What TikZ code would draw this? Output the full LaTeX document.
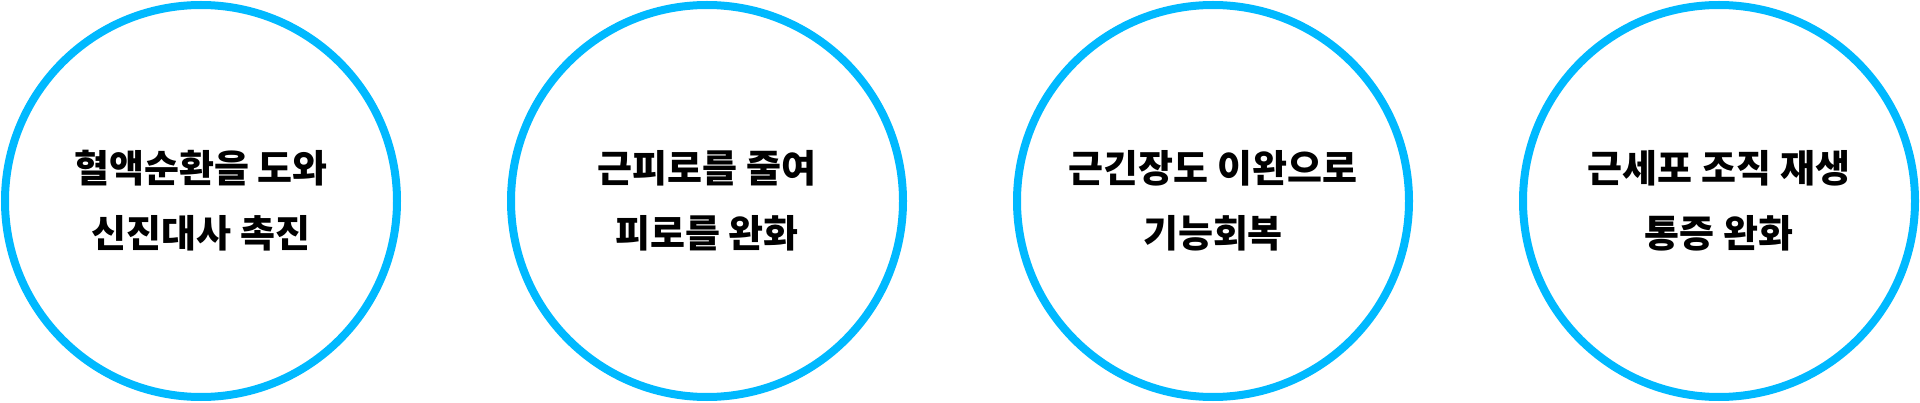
\documentclass[tikz,border=0pt]{standalone}
\usepackage{fontspec}
\setmainfont{Noto Sans CJK KR}
\definecolor{ringblue}{RGB}{0,185,255}
\tikzset{
  effect/.style={circle, draw=ringblue, line width=8pt, minimum size=392pt,
    align=center, font=\bfseries\fontsize{38}{65}\selectfont, text=black}
}
\begin{document}
\begin{tikzpicture}[x=1pt, y=1pt]
    \useasboundingbox (0,0) rectangle (1920,402);
    \node[effect] (blood) at (201,201) {혈액순환을 도와\\신진대사 촉진};
    \node[effect] (fatigue) at (707,201) {근피로를 줄여\\피로를 완화};
    \node[effect] (tension) at (1213,201) {근긴장도 이완으로\\기능회복};
    \node[effect] (regen) at (1719,201) {근세포 조직 재생\\통증 완화};
\end{tikzpicture}
\end{document}
